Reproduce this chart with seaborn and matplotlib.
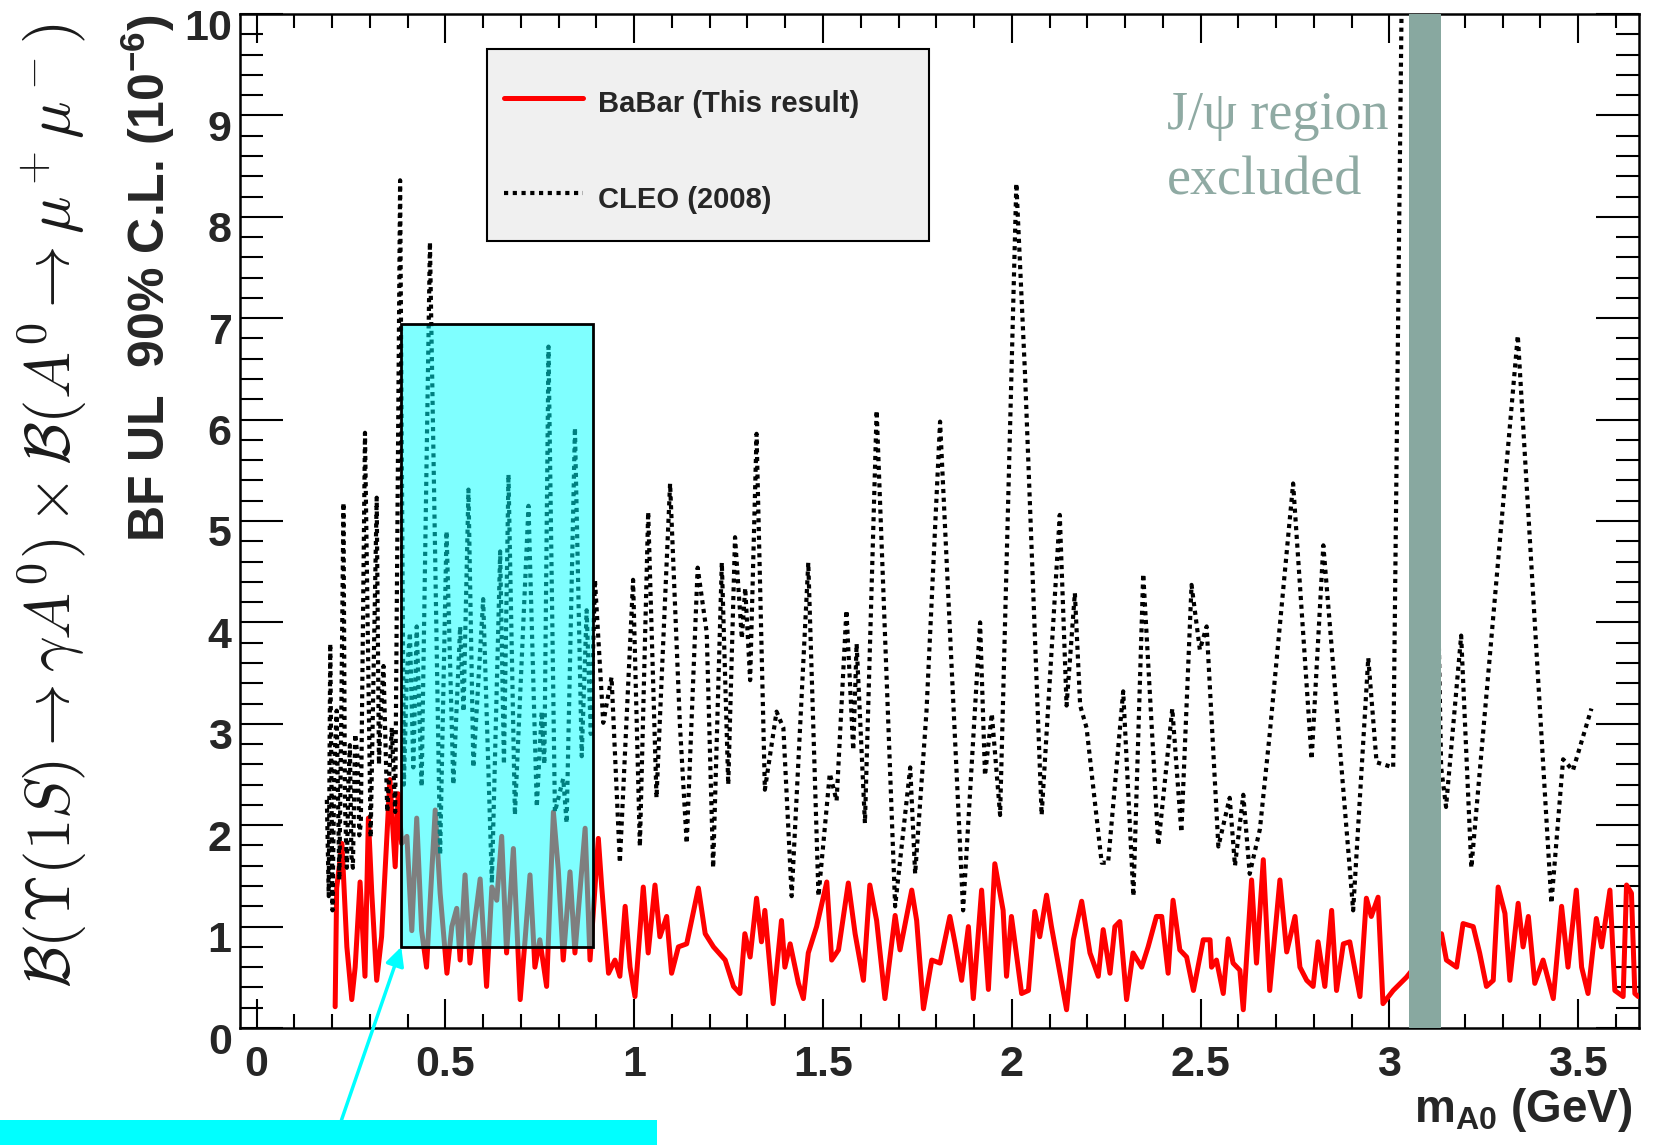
import numpy as np
import pandas as pd
import matplotlib
matplotlib.use("Agg")
import matplotlib.pyplot as plt
import matplotlib.transforms as mtransforms
from matplotlib.patches import Rectangle
from matplotlib.lines import Line2D
from matplotlib.ticker import MultipleLocator, FuncFormatter
import seaborn as sns

# BaBar 90% C.L. upper limits (units of 1e-6) vs A0 mass (GeV)
babar_mass = [
    0.208, 0.212, 0.226, 0.239, 0.252, 0.261, 0.274, 0.287, 0.296, 0.305,
    0.318, 0.331, 0.353, 0.367, 0.375, 0.384, 0.398, 0.411, 0.424, 0.437,
    0.450, 0.473, 0.486, 0.504, 0.517, 0.530, 0.539, 0.552, 0.565, 0.578,
    0.592, 0.609, 0.623, 0.636, 0.649, 0.662, 0.680, 0.698, 0.711, 0.724,
    0.737, 0.750, 0.768, 0.786, 0.799, 0.812, 0.830, 0.843, 0.870, 0.883,
    0.905, 0.914, 0.932, 0.949, 0.962, 0.976, 0.989, 1.002, 1.024, 1.037,
    1.055, 1.068, 1.086, 1.099, 1.117, 1.139, 1.170, 1.188, 1.210, 1.241,
    1.263, 1.280, 1.293, 1.307, 1.324, 1.337, 1.346, 1.368, 1.390, 1.399,
    1.413, 1.435, 1.448, 1.461, 1.483, 1.510, 1.523, 1.541, 1.567, 1.585,
    1.607, 1.624, 1.642, 1.664, 1.691, 1.704, 1.735, 1.748, 1.766, 1.788,
    1.810, 1.836, 1.850, 1.867, 1.885, 1.898, 1.920, 1.938, 1.955, 1.977,
    1.986, 1.999, 2.026, 2.044, 2.061, 2.074, 2.092, 2.105, 2.145, 2.163,
    2.185, 2.207, 2.229, 2.242, 2.260, 2.273, 2.286, 2.304, 2.321, 2.344,
    2.361, 2.383, 2.397, 2.414, 2.427, 2.445, 2.463, 2.481, 2.507, 2.525,
    2.529, 2.542, 2.560, 2.573, 2.586, 2.604, 2.613, 2.635, 2.648, 2.666,
    2.683, 2.710, 2.728, 2.750, 2.763, 2.781, 2.798, 2.811, 2.829, 2.847,
    2.860, 2.878, 2.895, 2.922, 2.939, 2.952, 2.970, 2.983, 3.010, 3.045,
    3.138, 3.151, 3.178, 3.195, 3.222, 3.239, 3.257, 3.275, 3.288, 3.306,
    3.319, 3.341, 3.354, 3.368, 3.385, 3.407, 3.434, 3.456, 3.473, 3.495,
    3.509, 3.526, 3.548, 3.562, 3.584, 3.597, 3.619, 3.628, 3.641, 3.650,
    3.659,
]
babar_ul = [
    0.21, 1.38, 1.82, 0.80, 0.28, 0.60, 1.44, 0.51, 2.07, 1.33,
    0.47, 0.90, 2.45, 1.59, 2.31, 1.82, 1.89, 0.96, 2.07, 0.96,
    0.60, 2.15, 1.33, 0.54, 1.00, 1.18, 0.67, 1.51, 0.64, 1.06,
    1.47, 0.41, 1.39, 1.26, 1.89, 0.74, 1.77, 0.28, 0.87, 1.51,
    0.60, 0.87, 0.41, 2.13, 1.56, 0.67, 1.54, 0.74, 1.97, 0.67,
    1.87, 1.39, 0.54, 0.67, 0.51, 1.20, 0.60, 0.31, 1.39, 0.74,
    1.41, 0.90, 1.10, 0.54, 0.80, 0.83, 1.38, 0.93, 0.80, 0.67,
    0.41, 0.34, 0.93, 0.70, 1.28, 0.85, 1.16, 0.24, 1.06, 0.60,
    0.83, 0.44, 0.29, 0.74, 1.00, 1.44, 0.67, 0.77, 1.43, 0.93,
    0.47, 1.41, 1.06, 0.29, 1.11, 0.77, 1.36, 1.06, 0.19, 0.67,
    0.64, 1.10, 0.83, 0.47, 1.00, 0.29, 1.36, 0.38, 1.62, 1.16,
    0.51, 1.10, 0.34, 0.37, 1.15, 0.90, 1.31, 1.00, 0.18, 0.87,
    1.25, 0.74, 0.51, 0.97, 0.54, 1.00, 1.05, 0.28, 0.74, 0.60,
    0.80, 1.10, 1.10, 0.54, 1.26, 0.77, 0.70, 0.37, 0.87, 0.87,
    0.60, 0.67, 0.34, 0.88, 0.64, 0.57, 0.18, 1.46, 0.64, 1.66,
    0.37, 1.46, 0.75, 1.10, 0.60, 0.47, 0.41, 0.85, 0.41, 1.16,
    0.37, 0.83, 0.85, 0.31, 1.28, 1.10, 1.29, 0.24, 0.37, 0.50,
    0.93, 0.67, 0.60, 1.03, 1.00, 0.74, 0.41, 0.47, 1.39, 1.13,
    0.47, 1.23, 0.80, 1.10, 0.44, 0.67, 0.29, 1.20, 0.60, 1.36,
    0.60, 0.34, 1.08, 0.80, 1.36, 0.37, 0.31, 1.41, 1.33, 0.34,
    0.31,
]

# CLEO (2008) 90% C.L. upper limits
cleo_mass = [
    0.186, 0.191, 0.195, 0.201, 0.206, 0.212, 0.219, 0.224, 0.230, 0.234,
    0.239, 0.243, 0.247, 0.251, 0.255, 0.261, 0.267, 0.272, 0.276, 0.287,
    0.302, 0.318, 0.324, 0.329, 0.336, 0.346, 0.358, 0.367, 0.380, 0.390,
    0.398, 0.406, 0.415, 0.424, 0.437, 0.459, 0.486, 0.503, 0.521, 0.539,
    0.548, 0.561, 0.574, 0.600, 0.623, 0.645, 0.655, 0.667, 0.684, 0.720,
    0.742, 0.755, 0.762, 0.773, 0.790, 0.812, 0.821, 0.843, 0.861, 0.874,
    0.885, 0.896, 0.918, 0.940, 0.962, 0.997, 1.015, 1.037, 1.059, 1.095,
    1.121, 1.139, 1.168, 1.192, 1.209, 1.232, 1.249, 1.267, 1.285, 1.294,
    1.307, 1.324, 1.346, 1.377, 1.395, 1.417, 1.461, 1.488, 1.518, 1.536,
    1.562, 1.580, 1.589, 1.611, 1.642, 1.691, 1.731, 1.744, 1.774, 1.810,
    1.871, 1.916, 1.929, 1.947, 1.969, 2.012, 2.035, 2.079, 2.127, 2.145,
    2.167, 2.181, 2.198, 2.238, 2.255, 2.295, 2.322, 2.348, 2.388, 2.425,
    2.449, 2.476, 2.498, 2.516, 2.547, 2.577, 2.591, 2.613, 2.630, 2.657,
    2.683, 2.745, 2.794, 2.825, 2.904, 2.944, 2.966, 3.010, 3.035, 3.095,
    3.137, 3.150, 3.190, 3.217, 3.340, 3.429, 3.460, 3.486, 3.535,
]
cleo_ul = [
    2.25, 1.30, 3.79, 1.16, 2.60, 3.13, 1.46, 3.00, 5.18, 2.20,
    1.58, 2.40, 2.79, 1.70, 1.58, 2.90, 2.68, 1.90, 2.02, 5.87,
    1.88, 5.23, 2.60, 3.12, 3.57, 2.13, 2.96, 2.13, 8.36, 2.40,
    3.50, 3.90, 2.57, 3.96, 2.38, 7.75, 1.71, 4.90, 2.40, 3.96,
    3.12, 5.31, 2.57, 4.23, 1.43, 4.70, 2.60, 5.46, 2.10, 5.15,
    2.18, 3.12, 2.60, 6.72, 2.13, 2.46, 2.02, 5.92, 2.68, 4.12,
    2.90, 4.42, 3.01, 3.46, 1.63, 4.42, 1.79, 5.09, 2.27, 5.37,
    2.99, 1.82, 4.54, 3.90, 1.58, 4.59, 2.40, 4.84, 3.84, 4.34,
    3.43, 5.86, 2.35, 3.12, 2.96, 1.30, 4.59, 1.30, 2.51, 2.24,
    4.12, 2.74, 3.79, 2.02, 6.09, 1.20, 2.57, 1.52, 3.12, 5.98,
    1.16, 4.00, 2.49, 3.10, 2.10, 8.33, 6.45, 2.10, 5.06, 3.18,
    4.29, 3.18, 2.96, 1.63, 1.63, 3.32, 1.30, 4.48, 1.80, 3.15,
    1.93, 4.37, 3.73, 3.96, 1.79, 2.27, 1.60, 2.30, 1.52, 1.96,
    2.90, 5.37, 2.65, 4.76, 1.16, 3.65, 2.62, 2.57, 11.0, 11.0,
    2.57, 2.18, 3.87, 1.58, 6.83, 1.23, 2.65, 2.54, 3.15,
]

babar = pd.DataFrame({"mass": babar_mass, "ul": babar_ul})
cleo = pd.DataFrame({"mass": cleo_mass, "ul": cleo_ul})

sns.set_theme(style="ticks")
plt.rcParams["font.family"] = ["Liberation Sans", "DejaVu Sans"]
plt.rcParams["font.weight"] = "bold"
plt.rcParams["mathtext.fontset"] = "custom"
plt.rcParams["mathtext.rm"] = "Liberation Sans:bold"
plt.rcParams["mathtext.bf"] = "Liberation Sans:bold"
plt.rcParams["mathtext.it"] = "Liberation Sans:bold"
plt.rcParams["mathtext.default"] = "it"

W, H = 1653, 1145
fig = plt.figure(figsize=(W / 100, H / 100), dpi=100)
fig.patch.set_facecolor("white")
ax = fig.add_axes([240 / W, 1 - 1028 / H, (1639 - 240) / W, (1028 - 14) / H])
ax.set_facecolor("white")

sns.lineplot(data=babar, x="mass", y="ul", estimator=None, sort=False,
             color="#ff0000", lw=3.6, ax=ax, zorder=3)
sns.lineplot(data=cleo, x="mass", y="ul", estimator=None, sort=False,
             color="black", lw=3.0, ax=ax, zorder=3)
cleo_line = ax.lines[-1]
cleo_line.set_linestyle((0, (1.0, 1.1)))
cleo_line.set_dash_capstyle("butt")

ax.set_xlim(-0.044, 3.661)
ax.set_ylim(0, 10)
ax.set_xlabel("")
ax.set_ylabel("")

# ROOT-style frame: inward ticks on all four sides
ax.xaxis.set_major_locator(MultipleLocator(0.5))
ax.xaxis.set_minor_locator(MultipleLocator(0.1))
ax.yaxis.set_major_locator(MultipleLocator(1))
ax.yaxis.set_minor_locator(MultipleLocator(0.2))
ax.xaxis.set_major_formatter(FuncFormatter(lambda v, p: f"{v:g}"))
ax.yaxis.set_major_formatter(FuncFormatter(lambda v, p: f"{v:g}"))
ax.tick_params(which="both", direction="in", top=True, right=True,
               color="black", width=1.5)
ax.tick_params(axis="x", which="major", length=21, pad=12, labelsize=31)
ax.tick_params(axis="x", which="minor", length=10)
ax.tick_params(axis="y", which="major", length=31, pad=6, labelsize=31)
ax.tick_params(axis="y", which="minor", length=16.5)
for lbl in ax.get_xticklabels() + ax.get_yticklabels():
    lbl.set_fontweight("bold")
shift = mtransforms.ScaledTranslation(0, -10 / 100, fig.dpi_scale_trans)
for lbl in ax.yaxis.get_majorticklabels():
    lbl.set_transform(lbl.get_transform() + shift)
for s in ax.spines.values():
    s.set_linewidth(1.8)
    s.set_color("black")

# highlighted low-mass region
ax.add_patch(Rectangle((0.383, 0.80), 0.507, 6.14, facecolor=(0, 1, 1, 0.5),
                       edgecolor="black", lw=2.0, zorder=4))

# J/psi veto band
ax.axvspan(3.053, 3.137, color="#88a8a0", lw=0, zorder=5)
ax.text(0.6626, 0.8866, "J/ψ region", transform=ax.transAxes,
        family="Liberation Serif", fontweight="normal", fontsize=39,
        color="#8faaa3", ha="left", va="baseline", zorder=6)
ax.text(0.6626, 0.8215, "excluded", transform=ax.transAxes,
        family="Liberation Serif", fontweight="normal", fontsize=39,
        color="#8faaa3", ha="left", va="baseline", zorder=6)

# legend box
ax.add_patch(Rectangle((0.1766, 0.7757), 0.3159, 0.1893, transform=ax.transAxes,
                       facecolor="#f0f0f0", edgecolor="black", lw=1.5, zorder=7))
ax.add_line(Line2D([0.1887, 0.2452], [0.9172, 0.9172], transform=ax.transAxes,
                   color="#ff0000", lw=3.6, zorder=8))
ax.add_line(Line2D([0.1887, 0.2452], [0.8235, 0.8235], transform=ax.transAxes,
                   color="black", lw=3.0, ls=(0, (1.0, 1.1)), zorder=8))
ax.text(0.2559, 0.9112, "BaBar (This result)", transform=ax.transAxes,
        fontsize=21, fontweight="bold", va="center", ha="left", zorder=8)
ax.text(0.2559, 0.8166, "CLEO (2008)", transform=ax.transAxes,
        fontsize=21, fontweight="bold", va="center", ha="left", zorder=8)

# axis titles
fig.text(147.6 / W, 1 - 15 / H, r"BF UL  90% C.L. (10$^{-6}$)", rotation=90,
         ha="center", va="top", fontsize=36, fontweight="bold")
fig.text(53 / W, 1 - 506 / H,
         r"$\mathcal{B}(\Upsilon(1S) \rightarrow \gamma A^0) \times "
         r"\mathcal{B}(A^0 \rightarrow \mu^+\mu^-)$",
         rotation=90, ha="center", va="center", fontsize=45,
         math_fontfamily="cm", color="#1a1a1a")
fig.text(1632 / W, 1 - 1122 / H, r"m$_{A0}$ (GeV)", ha="right",
         va="baseline", fontsize=33, fontweight="bold")

# callout strip and arrow
fig.add_artist(Rectangle((0, 0), 657 / W, 25 / H, transform=fig.transFigure,
                         facecolor="#00ffff", edgecolor="none"))
ax.annotate("", xy=(0.383, 0.80), xycoords="data",
            xytext=(341.5 / W, 1 - 1120 / H), textcoords="figure fraction",
            arrowprops=dict(arrowstyle="-|>", color="#00ffff", lw=2.5,
                            mutation_scale=28, shrinkA=0, shrinkB=0),
            annotation_clip=False, zorder=9)

fig.savefig("out.png", dpi=100)
